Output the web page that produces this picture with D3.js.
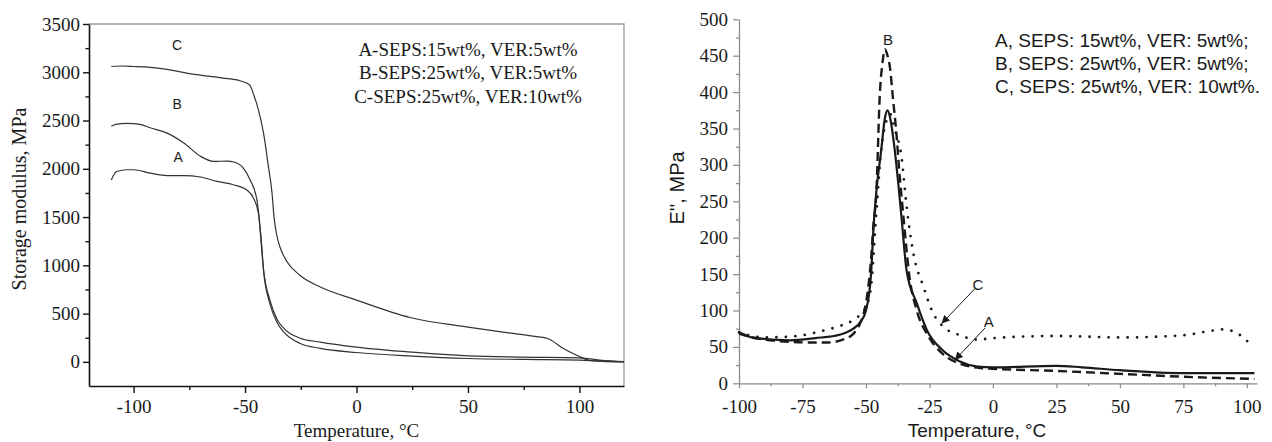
<!DOCTYPE html>
<html>
<head>
<meta charset="utf-8">
<script src="https://cdnjs.cloudflare.com/ajax/libs/d3/7.8.5/d3.min.js"></script>
<style>
  body { margin: 0; background: #fff; }
  svg { display: block; }
</style>
</head>
<body>
<div id="chart"></div>
<script>
// ---- left panel: storage modulus (MPa) vs temperature (C)
const storageTempA = [-110, -107.6, -103, -100, -92.6, -85, -77.6, -70, -62.6, -55.2, -49.2, -46.2, -44, -43, -41.7, -38.7, -35.7, -32.7, -25.2, -16.2, 0, 25, 50, 75, 100, 110, 120];
const storageA = [1885, 1972, 1990, 1990, 1955, 1930, 1930, 1915, 1870, 1835, 1780, 1695, 1540, 1300, 940, 590, 410, 310, 190, 140, 97, 60, 35, 25, 18, 8, 2];

const storageTempB = [-110, -108, -103, -97, -92.6, -85, -77.6, -70, -64, -58, -55, -50.7, -47.7, -44.7, -44, -42.5, -41.7, -38.7, -35.7, -32.7, -25.2, -16.2, 0, 25, 50, 75, 100, 110, 120];
const storageB = [2440, 2460, 2470, 2460, 2425, 2370, 2270, 2130, 2076, 2080, 2070, 2005, 1885, 1680, 1560, 1200, 960, 630, 445, 350, 245, 205, 153, 100, 63, 50, 42, 15, 3];

const storageTempC = [-110, -105, -100, -90, -80, -75, -70, -60, -52, -48, -46, -44, -41.7, -39.5, -37.9, -37, -36, -34.5, -32.7, -30, -27, -25, -16.2, 0, 24, 50, 65, 80, 86, 93, 100, 104, 110, 120];
const storageC = [3060, 3065, 3060, 3045, 3010, 2985, 2970, 2940, 2910, 2870, 2760, 2610, 2370, 2020, 1750, 1500, 1340, 1200, 1100, 1000, 930, 890, 775, 640, 460, 360, 310, 265, 240, 135, 55, 18, 5, 0];

const storageXTicks = [-100, -50, 0, 50, 100];
const storageXMinor = [-75, -25, 25, 75];
const storageYTicks = [0, 500, 1000, 1500, 2000, 2500, 3000, 3500];
const storageYMinor = [250, 750, 1250, 1750, 2250, 2750, 3250];

const storageLabels = ['A', 'B', 'C'];
const storageLabelT = [-80, -80.5, -80.5];
const storageLabelV = [2125, 2667, 3281];
const storageLegend = ['A-SEPS:15wt%, VER:5wt%', 'B-SEPS:25wt%, VER:5wt%', 'C-SEPS:25wt%, VER:10wt%'];

// ---- right panel: loss modulus E'' (MPa) vs temperature (C)
const lossTempA = [-100, -95, -90, -80, -70, -60, -55, -52, -50, -48, -47, -46, -44, -42.5, -41.5, -40.5, -39, -37, -36, -34, -30, -26, -20, -13, -6, 0, 25, 35, 50, 75, 103];
const lossA = [68, 63, 61, 59, 62, 67, 75, 85, 100, 150, 215, 260, 320, 365, 375, 365, 330, 265, 228, 155, 110, 73, 46, 30, 23, 22, 24, 22, 18, 14, 14];

const lossTempB = [-100, -95, -90, -80, -70, -65, -60, -55, -52, -50, -48, -47, -46, -44.5, -43.5, -42.5, -41.5, -40.6, -39.3, -38, -37, -35, -33, -30, -26, -20, -13, -5, 0, 25, 50, 75, 103];
const lossB = [70, 63, 60, 57, 56, 56, 59, 68, 85, 110, 170, 220, 255, 400, 440, 459, 450, 435, 389, 343, 297, 220, 150, 100, 68, 41, 27, 21, 20, 17, 13, 9, 6];

const lossTempC = [-100, -95, -90, -80, -75, -65, -60, -55, -50, -48, -46, -44, -42, -40.5, -38.6, -36, -34, -31.3, -27.4, -23.5, -20.2, -13, -6.4, 0, 25, 50, 75, 84, 91, 96, 102.5];
const lossC = [70, 65, 63, 64, 66, 74, 79, 87, 105, 133, 230, 320, 360, 370, 348, 311, 243, 178, 133, 96, 80, 66, 60, 62, 65, 63, 66, 71, 74, 69, 50];

const lossXTicks = [-100, -75, -50, -25, 0, 25, 50, 75, 100];
const lossXMinor = [-87.5, -37.5, 37.5, 87.5];
const lossYTicks = [0, 50, 100, 150, 200, 250, 300, 350, 400, 450, 500];
const lossYMinor = [25, 75, 125, 175, 225, 275, 325, 375, 425, 475];

const lossLegend = ['A, SEPS: 15wt%, VER: 5wt%;', 'B, SEPS: 25wt%, VER: 5wt%;', 'C, SEPS: 25wt%, VER: 10wt%.'];
// label text, label position, arrow start, arrow end (data coords)
const lossLabels = ['B', 'C', 'A'];
const lossLabelT = [-41.3, -5.9, -1.6];
const lossLabelV = [472, 135, 84];
const lossArrowFrom = [null, [-7.1, 130], [-3.1, 76]];
const lossArrowTo = [null, [-20.2, 82], [-15, 32]];

const serif = '"Liberation Serif", "Times New Roman", serif';
const sans = '"Liberation Sans", Arial, sans-serif';
const ink = '#1a1a1a';
const plain = d => String(d);   // hyphen minus, no thousands comma

const svg = d3.select('#chart')
    .append('svg')
    .attr('width', 1272)
    .attr('height', 442);

svg.append('defs')
    .append('marker')
    .attr('id', 'arrow')
    .attr('viewBox', '0 0 10 10')
    .attr('refX', 10)
    .attr('refY', 5)
    .attr('markerWidth', 8)
    .attr('markerHeight', 8)
    .attr('markerUnits', 'userSpaceOnUse')
    .attr('orient', 'auto')
    .append('path')
    .attr('d', 'M0,0L10,5L0,10Z')
    .attr('fill', ink);

// ================= left panel =================
const lx = d3.scaleLinear().domain([-120, 120]).range([89, 624]);
const ly = d3.scaleLinear().domain([-250, 3500]).range([386, 24]);

const left = svg.append('g');

// gray frame on top and right
left.append('path')
    .attr('d', `M${lx(-120)},${ly(3500)}H${lx(120)}V${ly(-250)}`)
    .attr('fill', 'none')
    .attr('stroke', '#9a9a9a')
    .attr('stroke-width', 1.3);

left.append('g')
    .attr('transform', `translate(0,${ly(-250)})`)
    .call(d3.axisBottom(lx).tickValues(storageXTicks).tickFormat(plain).tickSize(7).tickPadding(6.5).tickSizeOuter(0));
left.append('g')
    .attr('transform', `translate(0,${ly(-250)})`)
    .call(d3.axisBottom(lx).tickValues(storageXMinor).tickSize(4).tickFormat('').tickSizeOuter(0))
    .select('.domain').remove();

left.append('g')
    .attr('transform', `translate(${lx(-120)},0)`)
    .call(d3.axisLeft(ly).tickValues(storageYTicks).tickFormat(plain).tickSize(6).tickPadding(3).tickSizeOuter(0));
left.append('g')
    .attr('transform', `translate(${lx(-120)},0)`)
    .call(d3.axisLeft(ly).tickValues(storageYMinor).tickSize(3.5).tickFormat('').tickSizeOuter(0))
    .select('.domain').remove();

left.selectAll('.domain').attr('stroke', '#111').attr('stroke-width', 1.6);
left.selectAll('.tick line').attr('stroke', '#111').attr('stroke-width', 1.4);
left.selectAll('.tick text')
    .style('font-family', serif)
    .style('font-size', '19px')
    .attr('fill', ink);

const storageLine = d3.line()
    .x(d => lx(d[0]))
    .y(d => ly(d[1]))
    .curve(d3.curveMonotoneX);

[[storageTempA, storageA], [storageTempB, storageB], [storageTempC, storageC]].forEach(s => {
    left.append('path')
        .attr('d', storageLine(d3.zip(s[0], s[1])))
        .attr('fill', 'none')
        .attr('stroke', '#333')
        .attr('stroke-width', 1.2);
});

left.selectAll('.slabel')
    .data(storageLabels)
    .enter()
    .append('text')
    .attr('x', (d, i) => lx(storageLabelT[i]))
    .attr('y', (d, i) => ly(storageLabelV[i]))
    .attr('dy', '0.35em')
    .attr('text-anchor', 'middle')
    .style('font-family', sans)
    .style('font-size', '14px')
    .attr('fill', ink)
    .text(d => d);

left.selectAll('.slegend')
    .data(storageLegend)
    .enter()
    .append('text')
    .attr('x', 468)
    .attr('y', (d, i) => 56 + i * 23.4)
    .attr('text-anchor', 'middle')
    .style('font-family', serif)
    .style('font-size', '19px')
    .attr('fill', ink)
    .text(d => d);

left.append('text')
    .attr('x', (lx(-120) + lx(120)) / 2)
    .attr('y', 437)
    .attr('text-anchor', 'middle')
    .style('font-family', serif)
    .style('font-size', '19px')
    .attr('fill', ink)
    .text('Temperature, °C');

left.append('text')
    .attr('transform', 'translate(26,199) rotate(-90)')
    .attr('text-anchor', 'middle')
    .style('font-family', serif)
    .style('font-size', '20px')
    .attr('fill', ink)
    .text('Storage modulus, MPa');

// ================= right panel =================
const rx = d3.scaleLinear().domain([-100, 104]).range([739, 1257]);
const ry = d3.scaleLinear().domain([0, 500]).range([383.3, 19.3]);

const right = svg.append('g');

right.append('g')
    .attr('transform', `translate(0,${ry(0)})`)
    .call(d3.axisBottom(rx).tickValues(lossXTicks).tickFormat(plain).tickSize(5).tickPadding(11).tickSizeOuter(0));
right.append('g')
    .attr('transform', `translate(0,${ry(0)})`)
    .call(d3.axisBottom(rx).tickValues(lossXMinor).tickSize(3).tickFormat('').tickSizeOuter(0))
    .select('.domain').remove();

right.append('g')
    .attr('transform', `translate(${rx(-100)},0)`)
    .call(d3.axisLeft(ry).tickValues(lossYTicks).tickFormat(plain).tickSize(6).tickPadding(5).tickSizeOuter(0));
right.append('g')
    .attr('transform', `translate(${rx(-100)},0)`)
    .call(d3.axisLeft(ry).tickValues(lossYMinor).tickSize(3).tickFormat('').tickSizeOuter(0))
    .select('.domain').remove();

right.selectAll('.domain').attr('stroke', '#8a8a8a').attr('stroke-width', 1.3);
right.selectAll('.tick line').attr('stroke', '#8a8a8a').attr('stroke-width', 1.2);
right.selectAll('.tick text')
    .style('font-family', serif)
    .style('font-size', '19px')
    .attr('fill', ink);

const lossLine = d3.line()
    .x(d => rx(d[0]))
    .y(d => ry(d[1]))
    .curve(d3.curveMonotoneX);

// C dotted, B dashed, A solid
right.append('path')
    .attr('d', lossLine(d3.zip(lossTempC, lossC)))
    .attr('fill', 'none')
    .attr('stroke', ink)
    .attr('stroke-width', 2.8)
    .attr('stroke-linecap', 'round')
    .attr('stroke-dasharray', '0,9.5');

right.append('path')
    .attr('d', lossLine(d3.zip(lossTempB, lossB)))
    .attr('fill', 'none')
    .attr('stroke', ink)
    .attr('stroke-width', 2.4)
    .attr('stroke-dasharray', '9,5');

right.append('path')
    .attr('d', lossLine(d3.zip(lossTempA, lossA)))
    .attr('fill', 'none')
    .attr('stroke', ink)
    .attr('stroke-width', 2.2);

lossLabels.forEach((lab, i) => {
    right.append('text')
        .attr('x', rx(lossLabelT[i]))
        .attr('y', ry(lossLabelV[i]))
        .attr('dy', '0.35em')
        .attr('text-anchor', 'middle')
        .style('font-family', sans)
        .style('font-size', '15px')
        .attr('fill', ink)
        .text(lab);
    if (lossArrowFrom[i]) {
        right.append('line')
            .attr('x1', rx(lossArrowFrom[i][0]))
            .attr('y1', ry(lossArrowFrom[i][1]))
            .attr('x2', rx(lossArrowTo[i][0]))
            .attr('y2', ry(lossArrowTo[i][1]))
            .attr('stroke', ink)
            .attr('stroke-width', 1)
            .attr('marker-end', 'url(#arrow)');
    }
});

right.selectAll('.llegend')
    .data(lossLegend)
    .enter()
    .append('text')
    .attr('x', 995)
    .attr('y', (d, i) => 46.7 + i * 23.3)
    .style('font-family', sans)
    .style('font-size', '19px')
    .attr('fill', ink)
    .text(d => d);

right.append('text')
    .attr('x', 977)
    .attr('y', 437)
    .attr('text-anchor', 'middle')
    .style('font-family', sans)
    .style('font-size', '19px')
    .attr('fill', ink)
    .text('Temperature, °C');

right.append('text')
    .attr('transform', 'translate(684,188) rotate(-90)')
    .attr('text-anchor', 'middle')
    .style('font-family', sans)
    .style('font-size', '20px')
    .attr('fill', ink)
    .text("E'', MPa");
</script>
</body>
</html>
